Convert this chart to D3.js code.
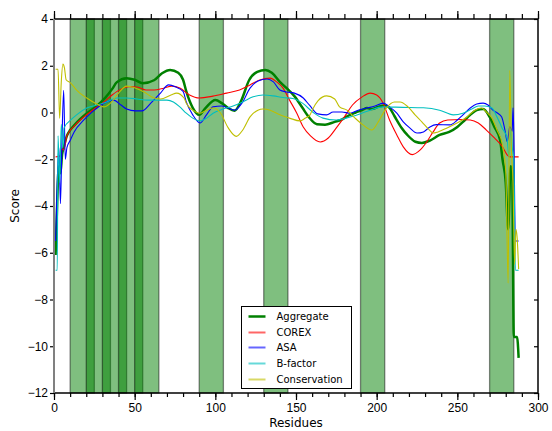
<!DOCTYPE html>
<meta charset="utf-8">
<style>
  body { margin: 0; background: #fff; }
  svg { font-family: "DejaVu Sans", sans-serif; }
  .line { fill: none; }
  .tick text { font-size: 12px; fill: #000; }
  .tick line { stroke: #000; stroke-width: 1.2px; }
</style>
<body>
<script src="https://d3js.org/d3.v7.min.js"></script>
<script>

// highlighted residue windows (start, end)
var windows = [[10, 25], [20, 35], [30, 45], [40, 55], [50, 65],
               [90, 105], [130, 145], [190, 205], [270, 285]];

var xMajor = [0, 50, 100, 150, 200, 250, 300];
var xMinor = d3.range(0, 301, 10);
var yTicks = [-12, -10, -8, -6, -4, -2, 0, 2, 4];

// [residue, score]
var aggregate = [[1,-6.1],[2,-3.8],[3,-2.3],[4,-2.6],[5,-1.8],[6,-1.5],[8,-1.0],[10,-0.75],[12.5,-0.55],
  [16,-0.3],[20,-0.05],[26,0.25],[32,0.65],[36,1.0],[39,1.3],[45,1.47],[50,1.4],[55,1.25],[62,1.38],
  [67,1.68],[72,1.82],[77,1.7],[80,1.4],[82,0.9],[86,0.2],[90,-0.1],[94,0.2],[100,0.53],[104,0.4],
  [108,0.19],[112,0.08],[116,0.5],[121,1.39],[126,1.74],[131,1.82],[135,1.7],[140,1.31],[144,1.05],
  [149,0.7],[154,0.2],[158,-0.2],[163,-0.5],[168,-0.52],[174,-0.4],[178,-0.32],[182,-0.15],[187,0.0],
  [191,0.1],[194,0.19],[197,0.15],[201,0.24],[205,0.3],[208,0.2],[211,-0.15],[215.5,-0.66],[219,-0.96],
  [224,-1.25],[228,-1.3],[233,-1.2],[239,-0.96],[245,-0.83],[250,-0.62],[253.5,-0.4],[258,-0.1],
  [262,0.1],[266,0.15],[270,-0.19],[273,-0.62],[276.5,-1.18],[278,-2.0],[280,-3.0],[281.5,-5.0],
  [283,-2.3],[284,-2.5],[285,-9.6],[287,-9.6],[288,-10.5]];

var corex = [[1,-1.9],[4,-1.85],[5,-1.55],[6,-1.6],[8,-1.0],[12.5,-0.58],[18.5,-0.19],[25,0.15],[31,0.45],
  [36,0.75],[41.5,1.0],[46.5,1.1],[51.5,1.09],[57,0.96],[62,0.96],[68,1.04],[73,1.13],[78,1.05],[84,0.75],
  [90,0.62],[98.5,0.7],[107,0.83],[115,0.96],[121.5,1.18],[127.5,1.39],[134,1.47],[138,1.31],[142,1.04],
  [146,0.53],[150.5,-0.03],[154.5,-0.62],[159,-1.0],[165,-1.26],[170,-1.09],[175,-0.66],[180,-0.19],
  [185,0.32],[191,0.67],[196,0.83],[200,0.75],[204,0.4],[208,-0.32],[212.5,-0.96],[216.5,-1.47],
  [222,-1.8],[227,-1.6],[231,-1.26],[235,-0.83],[239,-0.45],[244,-0.32],[252,-0.3],[258,-0.32],
  [263,-0.45],[268,-0.75],[273,-1.09],[278,-1.47],[281,-1.82],[282.5,-1.9],[288,-1.9]];

var asa = [[1,-5.5],[2,-3.0],[3,-1.5],[4,-3.9],[5,-1.0],[6,0.95],[7,-2.0],[8,-1.5],[10,-1.2],[12.5,-0.83],
  [18.5,-0.32],[25,0.1],[31,0.4],[37,0.53],[41.5,0.32],[45,0.15],[50.5,0.07],[54.5,0.07],[60,0.4],
  [66,0.83],[71,1.18],[75.5,1.09],[80,0.9],[82,0.45],[86,-0.1],[90.5,-0.45],[94.5,-0.1],[98.5,0.24],
  [104,0.28],[108,0.19],[112,0.1],[116.5,0.4],[121.5,1.04],[126.5,1.35],[132,1.43],[136,1.31],[140,0.96],
  [144,0.88],[149,0.83],[154.5,0.62],[158.5,0.3],[163.5,-0.06],[169,-0.1],[173,0.02],[178.5,0.02],
  [183.5,-0.03],[188.5,0.1],[194,0.19],[199,0.28],[204,0.4],[208,0.24],[212.5,-0.03],[216.5,-0.4],
  [220.5,-0.66],[225,-0.88],[229,-0.83],[233,-0.62],[237,-0.52],[245.5,-0.53],[250,-0.32],[253.5,-0.1],
  [258,0.19],[262,0.36],[266,0.4],[269,0.32],[272,0.1],[275,-0.03],[277.5,-0.19],[279.5,-0.75],
  [281,-1.26],[282.5,-0.6],[284,-0.8],[284.5,0.2],[285,-0.9],[286,-5.5],[288,-5.5]];

var bfactor = [[1,-6.75],[2,-6.75],[2.5,-1.0],[3.5,-3.0],[4.5,-0.5],[5.5,-1.5],[6.2,-0.66],[10.4,-0.32],
  [14,-0.1],[20.3,0.19],[26.6,0.32],[32.7,0.45],[39,0.62],[45,0.62],[51.4,0.58],[57.6,0.53],[64,0.53],
  [70,0.53],[74,0.45],[78,0.24],[82,-0.03],[86,-0.24],[90.5,-0.36],[94.6,-0.24],[98.6,-0.03],[104.8,0.15],
  [111,0.28],[117,0.45],[123.4,0.67],[129.5,0.75],[136,0.71],[142,0.64],[148,0.6],[154,0.4],[160.7,0.0],
  [166.7,-0.24],[175,-0.32],[183.5,-0.19],[190,-0.05],[196,0.1],[204,0.24],[216,0.22],[229,0.2],
  [239,0.1],[247.5,-0.1],[253.5,-0.03],[259,0.15],[263,0.28],[267,0.28],[271.5,0.19],[274.6,-0.19],
  [277.7,-0.66],[280.8,-1.09],[282,-1.9],[283,-0.7],[284,-1.5],[285,-2.0],[286,-6.75],[288,-6.75]];

var conservation = [[1,1.85],[2.5,1.85],[3.5,-0.25],[4.5,1.3],[5.5,2.07],[6.5,1.9],[7.5,1.4],[10.4,1.26],
  [14,0.96],[20.3,0.62],[26.6,0.36],[31,0.24],[35,0.4],[40,0.83],[45,1.13],[50.6,1.04],[55.8,0.88],
  [62,0.62],[66,0.58],[72.5,0.75],[76,0.83],[80.6,0.62],[82,0.4],[86,0.1],[90.5,-0.03],[94.6,0.1],
  [98.6,0.19],[103,0.0],[108,-0.66],[113,-1.02],[117,-0.75],[121.5,-0.19],[126.4,0.1],[129.5,0.15],
  [134,0.1],[140,-0.1],[146,-0.24],[152.5,-0.36],[155.6,-0.25],[158.7,-0.1],[160,0.1],[163.6,0.5],
  [169,0.71],[174,0.58],[177,0.24],[181.6,0.1],[186.6,-0.24],[191.5,-0.53],[197,-0.75],[201,-0.4],
  [206,0.19],[211,0.45],[214.5,0.45],[219.4,0.24],[223.8,-0.1],[228,-0.4],[232,-0.7],[235,-0.88],
  [238,-0.83],[243.6,-0.66],[249.8,-0.45],[256,-0.19],[261,0.1],[265,0.19],[268,0.02],[271.5,-0.24],
  [274.6,-0.75],[277.7,-1.3],[280,-2.5],[281.5,-7.3],[282.5,1.8],[283.5,-1.5],[284.5,-3.0],[285.5,-6.5],
  [286.3,-5.0],[287,-5.3],[288,-6.7]];

var series = [
  {name: "Aggregate",    data: aggregate,    color: "#008000", width: 2.5},
  {name: "COREX",        data: corex,        color: "#ff0000", width: 1.1},
  {name: "ASA",          data: asa,          color: "#0000ff", width: 1.1},
  {name: "B-factor",     data: bfactor,      color: "#00bfbf", width: 1.1},
  {name: "Conservation", data: conservation, color: "#bfbf00", width: 1.1}
];

// plot box, in page pixels
var W = 552, H = 431;
var pLeft = 54, pRight = 538, pTop = 19, pBottom = 393;

var x = d3.scaleLinear().domain([0, 300]).range([pLeft, pRight]);
var y = d3.scaleLinear().domain([-12, 4]).range([pBottom, pTop]);

var svg = d3.select("body").append("svg")
    .attr("width", W)
    .attr("height", H);

svg.append("defs").append("clipPath").attr("id", "clip")
  .append("rect")
    .attr("x", pLeft).attr("y", pTop)
    .attr("width", pRight - pLeft).attr("height", pBottom - pTop);

// shaded windows
svg.append("g").selectAll("rect")
    .data(windows)
  .enter().append("rect")
    .attr("x", function(d) { return x(d[0]); })
    .attr("y", pTop)
    .attr("width", function(d) { return x(d[1]) - x(d[0]); })
    .attr("height", pBottom - pTop)
    .attr("fill", "rgba(0,128,0,0.5)")
    .attr("stroke", "rgba(0,0,0,0.45)")
    .attr("stroke-width", 1.3);

// the lines
var line = d3.line()
    .x(function(d) { return x(d[0]); })
    .y(function(d) { return y(d[1]); })
    .curve(d3.curveMonotoneX);

svg.append("g").attr("clip-path", "url(#clip)")
  .selectAll("path")
    .data(series)
  .enter().append("path")
    .attr("class", "line")
    .attr("d", function(d) { return line(d.data); })
    .attr("stroke", function(d) { return d.color; })
    .attr("stroke-width", function(d) { return d.width; });

// axes
function clean(g) { g.select(".domain").remove(); }

svg.append("g")
    .attr("transform", "translate(0," + pBottom + ")")
    .call(d3.axisBottom(x).tickValues(xMinor).tickSize(4).tickFormat(""))
    .call(clean);
svg.append("g")
    .attr("transform", "translate(0," + pBottom + ")")
    .call(d3.axisBottom(x).tickValues(xMajor).tickSize(7).tickPadding(3).tickFormat(d3.format("d")))
    .call(clean);
svg.append("g")
    .attr("transform", "translate(0," + pTop + ")")
    .call(d3.axisTop(x).tickValues(xMinor).tickSize(5).tickFormat(""))
    .call(clean);
svg.append("g")
    .attr("transform", "translate(0," + pTop + ")")
    .call(d3.axisTop(x).tickValues(xMajor).tickSize(8).tickFormat(""))
    .call(clean);
svg.append("g")
    .attr("transform", "translate(" + pLeft + ",0)")
    .call(d3.axisLeft(y).tickValues(yTicks).tickSize(4).tickPadding(2).tickFormat(d3.format("d")))
    .call(clean);
svg.append("g")
    .attr("transform", "translate(" + pRight + ",0)")
    .call(d3.axisRight(y).tickValues(yTicks).tickSize(-4).tickFormat(""))
    .call(clean);

// spines
svg.append("line").attr("x1", pLeft).attr("x2", pRight).attr("y1", pTop).attr("y2", pTop)
    .attr("stroke", "#000").attr("stroke-width", 1.5);
svg.append("line").attr("x1", pLeft).attr("x2", pRight).attr("y1", pBottom).attr("y2", pBottom)
    .attr("stroke", "#000").attr("stroke-width", 1.5);
svg.append("line").attr("x1", pRight).attr("x2", pRight).attr("y1", pTop).attr("y2", pBottom)
    .attr("stroke", "#000").attr("stroke-width", 1.5);
svg.append("line").attr("x1", pLeft).attr("x2", pLeft).attr("y1", pTop).attr("y2", pBottom)
    .attr("stroke", "#808080").attr("stroke-width", 2);

// axis titles
svg.append("text")
    .attr("x", (pLeft + pRight) / 2)
    .attr("y", 427)
    .attr("text-anchor", "middle")
    .style("font-size", "12px")
    .text("Residues");
svg.append("text")
    .attr("transform", "translate(19," + ((pTop + pBottom) / 2) + ") rotate(-90)")
    .attr("text-anchor", "middle")
    .style("font-size", "12px")
    .text("Score");

// legend
var legend = svg.append("g").attr("transform", "translate(241.5,306.5)");
legend.append("rect")
    .attr("width", 110).attr("height", 82)
    .attr("fill", "#fff")
    .attr("stroke", "#000")
    .attr("stroke-width", 1);
var item = legend.selectAll(".item")
    .data(series)
  .enter().append("g")
    .attr("class", "item")
    .attr("transform", function(d, i) { return "translate(0," + Math.round(10 + i * 15.7) + ")"; });
item.append("line")
    .attr("x1", 7).attr("x2", 24)
    .attr("stroke", function(d) { return d.color; })
    .attr("stroke-opacity", function(d, i) { return i ? 0.6 : 1; })
    .attr("stroke-width", function(d) { return d.width > 2 ? 2.5 : 2; });
item.append("text")
    .attr("x", 35)
    .attr("dy", "0.35em")
    .style("font-size", "10px")
    .text(function(d) { return d.name; });

</script>
</body>
